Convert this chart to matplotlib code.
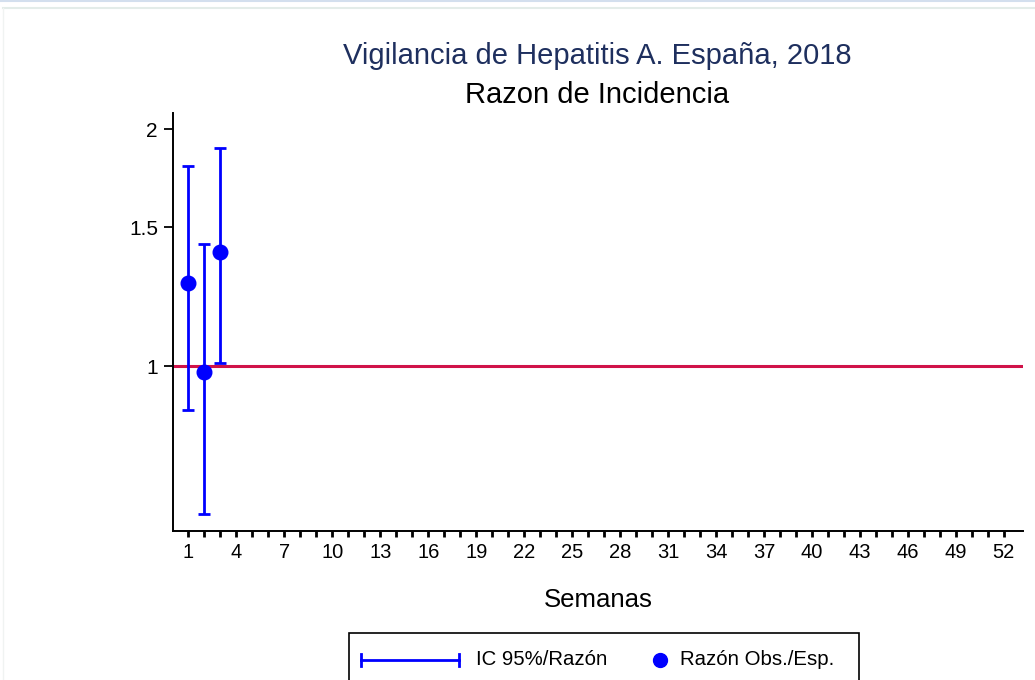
import matplotlib
matplotlib.use("Agg")
import matplotlib.pyplot as plt
from matplotlib.lines import Line2D
from matplotlib.patches import Rectangle
from matplotlib.ticker import FixedLocator, NullLocator

plt.rcParams['font.family'] = ['Liberation Sans', 'DejaVu Sans']

# data
semanas = [1, 2, 3]
razon = [1.276, 0.983, 1.398]
ic_inf = [0.879, 0.648, 1.008]
ic_sup = [1.796, 1.428, 1.892]

xticks = list(range(1, 53))
xlabels = [str(w) if (w - 1) % 3 == 0 else '' for w in xticks]
yticks = [1, 1.5, 2]
ylabels = ['1', '1.5', '2']

azul = '#0000ff'
rojo = '#d01249'

fig = plt.figure(figsize=(10.35, 6.8), dpi=100)
W, H = 1035.0, 680.0
ax = fig.add_axes([172.5 / W, 1 - 531 / H, (1023 - 172.5) / W, (531 - 113) / H])

ax.set_yscale('log')
ax.axhline(1, color=rojo, lw=2.2, zorder=1)

err_lo = [r - l for r, l in zip(razon, ic_inf)]
err_hi = [u - r for r, u in zip(razon, ic_sup)]
ax.errorbar(semanas, razon, yerr=[err_lo, err_hi], fmt='none', ecolor=azul,
            elinewidth=2, capsize=4.3, capthick=2, zorder=2)
ax.plot(semanas, razon, 'o', color=azul, ms=10.5, zorder=3)

ax.set_xlim(0, 53.2)
ax.set_ylim(0.617, 2.097)

ax.xaxis.set_major_locator(FixedLocator(xticks))
ax.set_xticklabels(xlabels, fontsize=14.5)
ax.yaxis.set_major_locator(FixedLocator(yticks))
ax.yaxis.set_minor_locator(NullLocator())
ax.set_yticklabels(ylabels, fontsize=15)
ax.tick_params(axis='x', length=4.5, width=2, pad=4)
ax.tick_params(axis='y', length=6.5, width=1.3, pad=4)

for s in ['top', 'right']:
    ax.spines[s].set_visible(False)
for s in ['left', 'bottom']:
    ax.spines[s].set_linewidth(1.4)

fig.text(597 / W, 1 - 56 / H, 'Vigilancia de Hepatitis A. España, 2018',
         ha='center', va='center', fontsize=21, color='#1e2f5e')
fig.text(597 / W, 1 - 95 / H, 'Razon de Incidencia',
         ha='center', va='center', fontsize=21, color='black')
fig.text(598 / W, 1 - 600 / H, 'Semanas', ha='center', va='center', fontsize=18.5)

# legend drawn in figure pixels
fig.add_artist(Rectangle((349 / W, 1 - 700 / H), (858.5 - 349) / W, (700 - 633.5) / H,
                         transform=fig.transFigure, fill=False, ec='black', lw=1.2))
ly = 1 - 659.5 / H
fig.add_artist(Line2D([361 / W, 459 / W], [ly, ly], transform=fig.transFigure,
                      color=azul, lw=2))
for cx in [361, 459]:
    fig.add_artist(Line2D([cx / W, cx / W], [ly - 6 / H, ly + 6 / H],
                          transform=fig.transFigure, color=azul, lw=2))
fig.text(476 / W, ly, 'IC 95%/Razón', ha='left', va='center', fontsize=14.7)
fig.add_artist(Line2D([659.5 / W], [ly], transform=fig.transFigure, marker='o',
                      color=azul, ms=10, ls='none'))
fig.text(680.5 / W, ly, 'Razón Obs./Esp.', ha='left', va='center', fontsize=14.7)

# faint window frame at the top
fig.add_artist(Line2D([0, 1], [1 - 1 / H, 1 - 1 / H], transform=fig.transFigure,
                      color='#d3dfee', lw=1.5))
fig.add_artist(Line2D([3 / W, 1], [1 - 8 / H, 1 - 8 / H], transform=fig.transFigure,
                      color='#e3ece9', lw=1.5))
fig.add_artist(Line2D([3 / W, 3 / W], [0, 1 - 8 / H], transform=fig.transFigure,
                      color='#f0f3f2', lw=1))

fig.savefig('out.png', dpi=100)
